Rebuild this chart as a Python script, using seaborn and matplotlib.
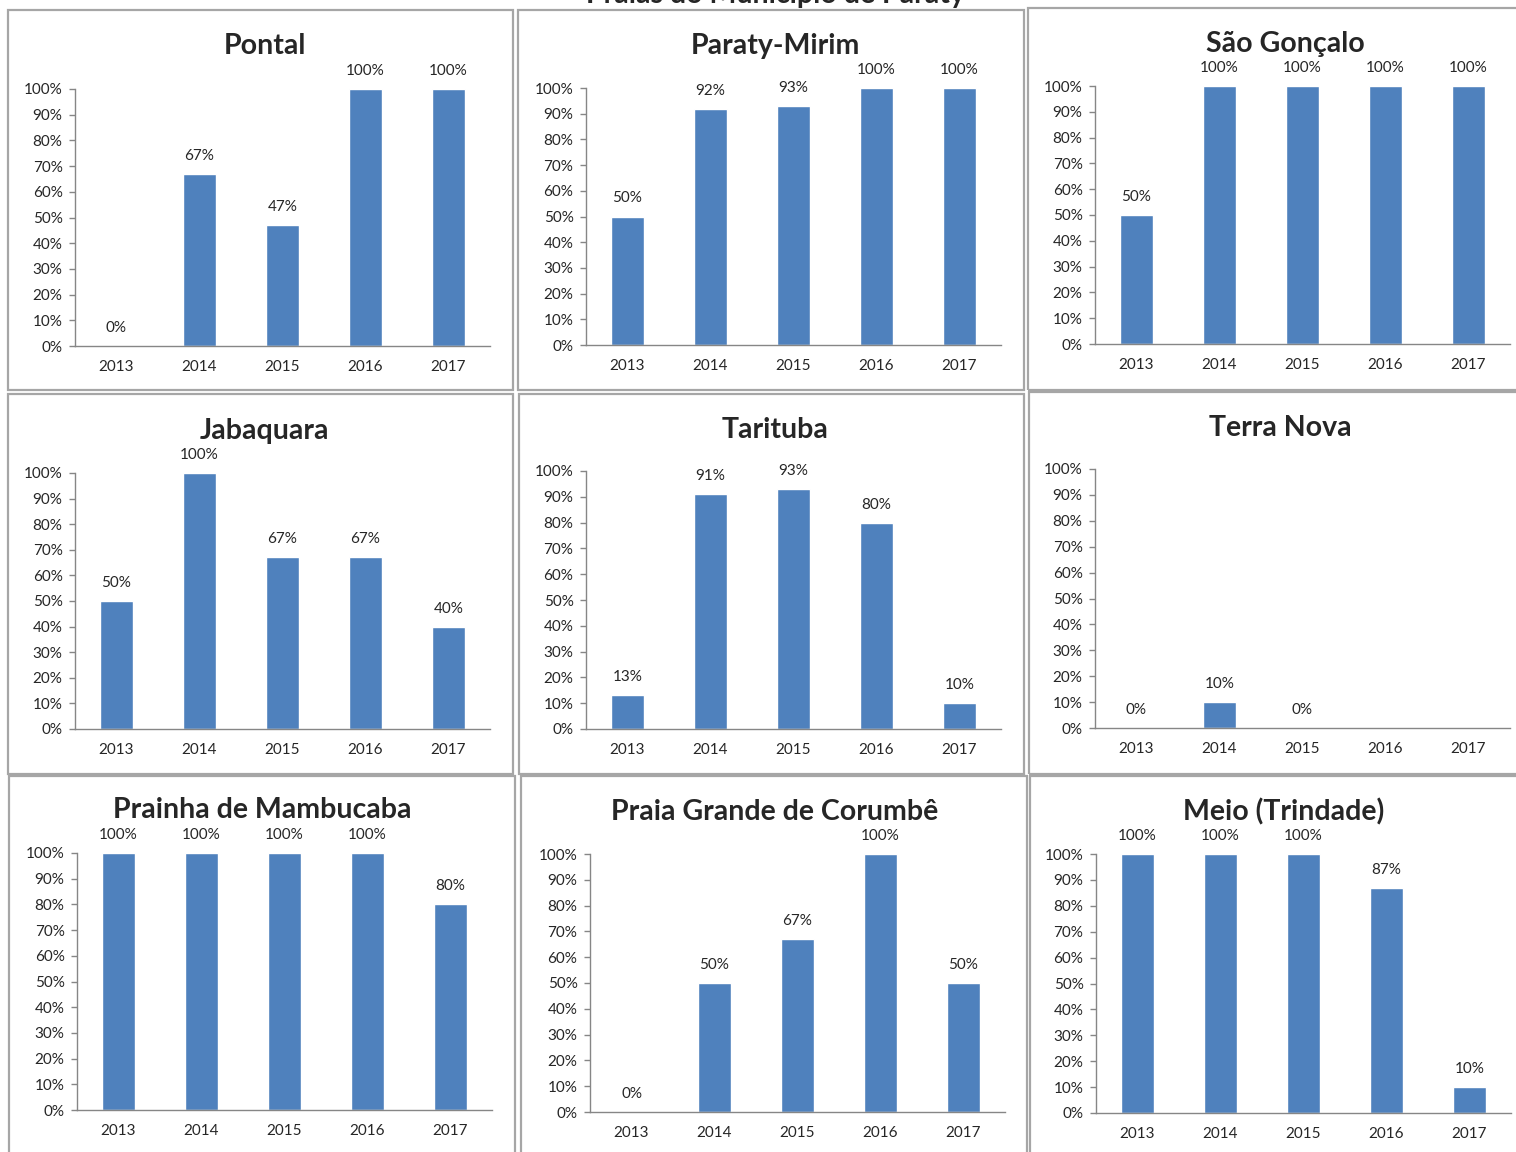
import numpy as np
import pandas as pd
import seaborn as sns
from matplotlib import pyplot as plt
from matplotlib.patches import Rectangle
from matplotlib.ticker import PercentFormatter

sns.set_style("white")
plt.rcParams['font.family'] = ['Lato', 'DejaVu Sans']

years = ['2013', '2014', '2015', '2016', '2017']
praias = ['Pontal', 'Paraty-Mirim', 'São Gonçalo',
          'Jabaquara', 'Tarituba', 'Terra Nova',
          'Prainha de Mambucaba', 'Praia Grande de Corumbê', 'Meio (Trindade)']
pontal = [0, 67, 47, 100, 100]
paraty_mirim = [50, 92, 93, 100, 100]
sao_goncalo = [50, 100, 100, 100, 100]
jabaquara = [50, 100, 67, 67, 40]
tarituba = [13, 91, 93, 80, 10]
terra_nova = [0, 10, 0, np.nan, np.nan]
prainha = [100, 100, 100, 100, 80]
praia_grande = [0, 50, 67, 100, 50]
meio = [100, 100, 100, 87, 10]
valores = [pontal, paraty_mirim, sao_goncalo, jabaquara, tarituba,
           terra_nova, prainha, praia_grande, meio]

W, H = 1516, 1152
fig = plt.figure(figsize=(W / 100, H / 100), dpi=100)

# pixel layout: axes (left, 0% y, 100% y), panel boxes, titles
ax_pos = [(75, 346, 89), (586, 345, 88), (1095, 344, 86),
          (75, 729, 473), (586, 729, 471), (1095, 728, 469),
          (77, 1110, 853), (590, 1112, 854), (1096, 1113, 854)]
boxes = [(8, 10, 513, 390), (518, 10, 1024, 390), (1028, 8, 1522, 390),
         (8, 394, 513, 774), (519, 394, 1024, 774), (1029, 392, 1522, 774),
         (9, 776, 515, 1160), (521, 776, 1027, 1160), (1030, 776, 1522, 1160)]
titulos = [(265, 46), (775, 46), (1285, 44),
           (264, 431), (775, 430), (1280, 428),
           (262, 810), (775, 812), (1284, 812)]

cor = '#4F81BD'
cinza = '#868686'

for (x0, y0, x1, y1) in boxes:
    fig.patches.append(Rectangle((x0 / W, 1 - y1 / H), (x1 - x0) / W, (y1 - y0) / H,
                                 transform=fig.transFigure, fill=False,
                                 edgecolor='#a6a6a6', lw=1.6))

for nome, vals, (left, y0, y100), (tx, ty) in zip(praias, valores, ax_pos, titulos):
    ax = fig.add_axes([left / W, 1 - y0 / H, 415 / W, (y0 - y100) / H])
    df = pd.DataFrame({'ano': years, 'pct': np.array(vals, dtype=float) / 100})
    sns.barplot(data=df, x='ano', y='pct', order=years, color=cor,
                saturation=1, width=0.39, ax=ax)
    ax.set_ylim(0, 1)
    ax.set_xlim(-0.5, 4.5)
    ax.set_yticks(np.arange(0, 1.01, 0.1))
    ax.yaxis.set_major_formatter(PercentFormatter(1.0, decimals=0))
    ax.set_xlabel('')
    ax.set_ylabel('')
    for s in ['top', 'right']:
        ax.spines[s].set_visible(False)
    for s in ['left', 'bottom']:
        ax.spines[s].set_color(cinza)
        ax.spines[s].set_linewidth(1.0)
    ax.set_xticks(np.arange(-0.5, 5, 1), minor=True)
    ax.tick_params(axis='x', which='major', length=0, pad=10, labelsize=11)
    ax.tick_params(axis='x', which='minor', length=4, color=cinza, width=1, direction='out')
    ax.tick_params(axis='y', length=4, color=cinza, width=1, direction='out',
                   pad=5, labelsize=11, left=True)
    for i, v in enumerate(vals):
        if np.isnan(v):
            continue
        ax.annotate(f'{int(v)}%', (i, v / 100), xytext=(0, 13),
                    textcoords='offset points', ha='center', va='center',
                    fontsize=11, annotation_clip=False)
    fig.text(tx / W, 1 - ty / H, nome, ha='center', va='center',
             fontsize=20.5, fontweight='bold')

fig.text(775 / W, 1 - 3 / H, 'Praias do Município de Paraty', ha='center',
         va='baseline', fontsize=20.5, fontweight='bold')

plt.savefig('out.png', dpi=100)
